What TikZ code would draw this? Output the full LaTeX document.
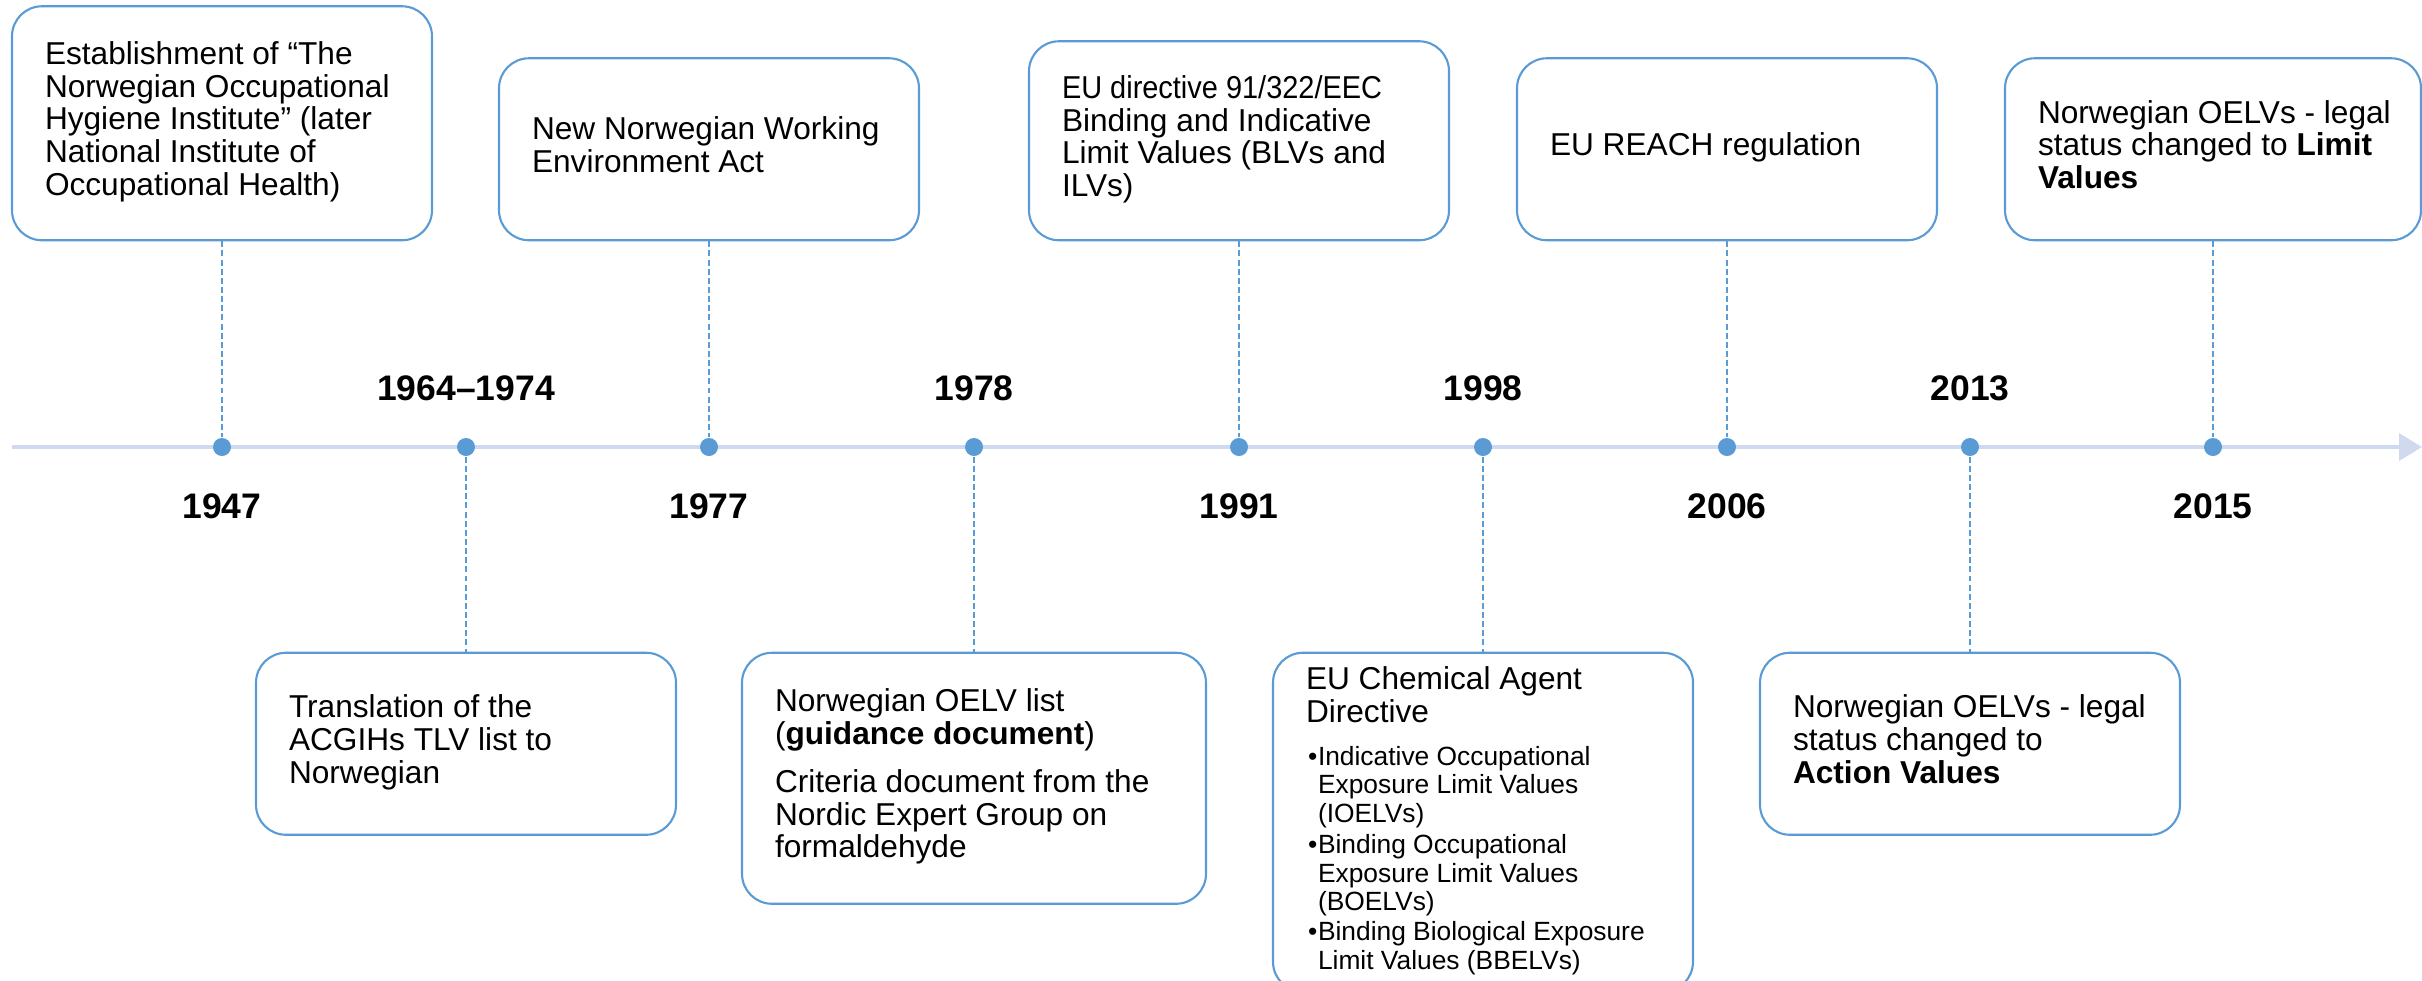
\documentclass[tikz,border=0pt]{standalone}
\usepackage{fontspec}
\setmainfont{Liberation Sans}
\usetikzlibrary{positioning,arrows.meta}

\definecolor{evblue}{HTML}{5B9BD5}
\definecolor{axisblue}{RGB}{207,218,238}
\newcommand\evfont{\fontsize{9}{9.25}\selectfont}
\newcommand\bulfont{\fontsize{7.5}{8.05}\selectfont}
\newcommand\yearfont{\fontsize{10.1}{12}\selectfont\bfseries}
\newcommand\lines[1]{\begin{tabular}{@{}l@{}}#1\end{tabular}}
\newcommand\bul{\makebox[0.12cm][l]{\hspace{0.02cm}\textbullet}}
\newcommand\ind{\hspace*{0.12cm}}

\begin{document}
\begin{tikzpicture}[
    evbox/.style = {draw=evblue, line width=0.6pt, fill=white, rounded corners=0.3cm,
                    align=flush left, inner xsep=0.33cm, inner ysep=0pt, font=\evfont,
                    minimum width=4.2cm, text width=3.54cm},
    dot/.style   = {circle, fill=evblue, inner sep=0pt, minimum size=0.18cm},
    year/.style  = {font=\yearfont, inner sep=0pt},
    link/.style  = {evblue, line width=0.5pt, dash pattern=on 1.7pt off 0.9pt}]
    \useasboundingbox (0,-5.33) rectangle (24.22,4.47);

    % time axis
    \draw[axisblue, line width=1pt, -{Triangle[length=0.23cm,width=0.27cm]}] (0.12,0) -- (24.22,0);

    \node[dot] (d1) at (2.22,0) {};
    \node[dot] (d2) at (4.66,0) {};
    \node[dot] (d3) at (7.09,0) {};
    \node[dot] (d4) at (9.74,0) {};
    \node[dot] (d5) at (12.39,0) {};
    \node[dot] (d6) at (14.83,0) {};
    \node[dot] (d7) at (17.27,0) {};
    \node[dot] (d8) at (19.70,0) {};
    \node[dot] (d9) at (22.13,0) {};

    % years
    \node[year, below=0.36cm of d1] (y1) {1947};
    \node[year, above=0.36cm of d2] (y2) {1964–1974};
    \node[year, below=0.36cm of d3] (y3) {1977};
    \node[year, above=0.36cm of d4] (y4) {1978};
    \node[year, below=0.36cm of d5] (y5) {1991};
    \node[year, above=0.36cm of d6] (y6) {1998};
    \node[year, below=0.36cm of d7] (y7) {2006};
    \node[year, above=0.36cm of d8] (y8) {2013};
    \node[year, below=0.36cm of d9] (y9) {2015};

    % events above the axis
    \node[evbox, minimum height=2.34cm, above=1.96cm of d1] (b1)
        {\lines{Establishment of “The\\Norwegian Occupational\\Hygiene Institute” (later\\National Institute of\\Occupational Health)}};
    \node[evbox, minimum height=1.82cm, above=1.96cm of d3] (b2)
        {\lines{New Norwegian Working\\Environment Act}};
    \node[evbox, minimum height=1.99cm, above=1.96cm of d5] (b3)
        {\lines{\scalebox{0.915}[1]{EU directive 91/322/EEC}\\Binding and Indicative\\Limit Values (BLVs and\\ILVs)}};
    \node[evbox, minimum height=1.82cm, above=1.96cm of d7] (b4)
        {\lines{EU REACH regulation}};
    \node[evbox, minimum height=1.82cm, minimum width=4.16cm, text width=3.5cm, above=1.96cm of d9] (b5)
        {\lines{Norwegian OELVs - legal\\status changed to \textbf{Limit}\\\textbf{Values}}};

    % events below the axis
    \node[evbox, minimum height=1.82cm, below=1.95cm of d2] (b6)
        {\lines{Translation of the\\ACGIHs TLV list to\\Norwegian}};
    \node[evbox, minimum height=2.51cm, minimum width=4.64cm, text width=3.98cm, below=1.95cm of d4] (b7)
        {\lines{Norwegian OELV list\\(\textbf{guidance document})\\[4.4pt]Criteria document from the\\Nordic Expert Group on\\formaldehyde}};
    \node[evbox, minimum height=3.39cm, below=1.95cm of d6] (b8)
        {\lines{EU Chemical Agent\\Directive}\par\vspace{2.8pt}
         {\bulfont\lines{\bul Indicative Occupational\\\ind Exposure Limit Values\\\ind (IOELVs)\\[1pt]
         \bul Binding Occupational\\\ind Exposure Limit Values\\\ind (BOELVs)\\[0.6pt]
         \bul Binding Biological Exposure\\\ind Limit Values (BBELVs)}}};
    \node[evbox, minimum height=1.82cm, below=1.95cm of d8] (b9)
        {\lines{Norwegian OELVs - legal\\status changed to\\\textbf{Action Values}}};

    \draw[link] (b1) -- (d1);
    \draw[link] (d2) -- (b6);
    \draw[link] (b2) -- (d3);
    \draw[link] (d4) -- (b7);
    \draw[link] (b3) -- (d5);
    \draw[link] (d6) -- (b8);
    \draw[link] (b4) -- (d7);
    \draw[link] (d8) -- (b9);
    \draw[link] (b5) -- (d9);
\end{tikzpicture}
\end{document}
